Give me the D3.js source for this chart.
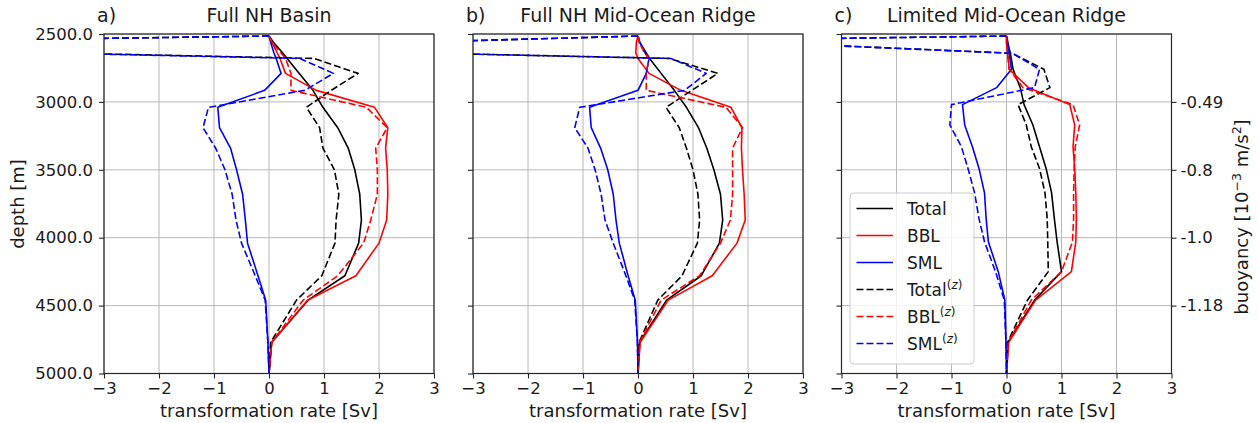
<!DOCTYPE html>
<html>
<head>
<meta charset="utf-8">
<script src="https://cdn.jsdelivr.net/npm/d3@7"></script>
<style>
  body { margin: 0; background: #fff; }
  text { font-family: "DejaVu Sans", sans-serif; fill: #1a1a1a; }
</style>
</head>
<body>
<svg id="chart" width="1258" height="423"></svg>
<script>
// ---- axes ticks and labels ----
const rateTicks = [-3, -2, -1, 0, 1, 2, 3];
const depthTicks = [2500, 3000, 3500, 4000, 4500, 5000];
const buoyancyTickDepths = [3000, 3500, 4000, 4500];
const buoyancyTickLabels = ["-0.49", "-0.8", "-1.0", "-1.18"];
const panelLetters = ["a)", "b)", "c)"];
const panelTitles = ["Full NH Basin", "Full NH Mid-Ocean Ridge", "Limited Mid-Ocean Ridge"];
const seriesNames = ["Total", "BBL", "SML", "Total", "BBL", "SML"];

// ---- depth levels [m] of each experiment ----
const depthA = [2515, 2560, 2640, 2680, 2790, 2915, 3040, 3190, 3340, 3500, 3680, 3870, 4040, 4280, 4460, 4770, 5000];
const depthB = [2515, 2560, 2640, 2680, 2790, 2915, 3040, 3190, 3340, 3500, 3680, 3870, 4040, 4280, 4460, 4770, 5000];
const depthC = [2515, 2550, 2575, 2642, 2760, 2895, 3020, 3170, 3330, 3490, 3670, 3860, 4030, 4250, 4460, 4770, 5000];

// ---- transformation rates [Sv], a) Full NH Basin ----
const totalA  = [0, 0.08, 0.25, 0.33, 0.55, 0.80, 0.98, 1.25, 1.44, 1.56, 1.65, 1.68, 1.63, 1.38, 0.71, 0.05, 0];
const bblA    = [0, 0.05, 0.15, 0.20, 0.30, 0.86, 1.92, 2.16, 2.12, 2.15, 2.16, 2.14, 2.00, 1.58, 0.70, 0.05, 0];
const smlA    = [0, 0.03, 0.09, 0.13, 0.22, -0.08, -0.93, -0.90, -0.70, -0.59, -0.48, -0.43, -0.39, -0.20, -0.06, -0.02, 0];
const totalZA = [0, -7.85, -3.8, 0.82, 1.62, 1.13, 0.68, 0.92, 0.98, 1.19, 1.27, 1.22, 1.20, 0.96, 0.50, 0.03, 0];
const bblZA   = [0, 0.05, 0.22, 0.30, 0.40, 0.40, 1.77, 2.15, 1.94, 1.97, 1.97, 1.85, 1.72, 1.25, 0.62, 0.05, 0];
const smlZA   = [0, -7.9, -4.0, 0.56, 1.17, 0.65, -1.10, -1.20, -0.97, -0.80, -0.67, -0.60, -0.50, -0.25, -0.07, -0.02, 0];

// ---- b) Full NH Mid-Ocean Ridge ----
const totalB  = [0, 0.03, 0.15, 0.21, 0.42, 0.66, 0.88, 1.10, 1.25, 1.38, 1.50, 1.54, 1.48, 1.15, 0.52, 0.03, 0];
const bblB    = [0, -0.03, -0.04, 0.00, 0.20, 0.78, 1.69, 1.89, 1.88, 1.90, 1.93, 1.95, 1.80, 1.35, 0.55, 0.04, 0];
const smlB    = [0, 0.03, 0.13, 0.20, 0.15, 0.00, -0.88, -0.85, -0.68, -0.55, -0.45, -0.40, -0.34, -0.18, -0.05, -0.01, 0];
const totalZB = [0, -3.98, -3.9, 0.57, 1.45, 0.98, 0.51, 0.75, 0.88, 1.00, 1.09, 1.12, 1.08, 0.80, 0.36, 0.02, 0];
const bblZB   = [0, 0.02, 0.12, 0.20, 0.15, 0.15, 1.60, 1.90, 1.72, 1.72, 1.72, 1.68, 1.50, 1.12, 0.42, 0.03, 0];
const smlZB   = [0, -4.0, -4.0, 0.60, 1.24, 0.85, -1.06, -1.15, -0.91, -0.78, -0.67, -0.60, -0.45, -0.22, -0.06, -0.01, 0];

// ---- c) Limited Mid-Ocean Ridge ----
const totalC  = [0, 0.02, 0.03, 0.07, 0.12, 0.25, 0.32, 0.48, 0.60, 0.72, 0.82, 0.87, 0.92, 1.00, 0.51, 0.03, 0];
const bblC    = [0, 0.00, 0.00, 0.02, 0.05, 0.40, 1.15, 1.24, 1.21, 1.24, 1.26, 1.27, 1.26, 1.18, 0.53, 0.04, 0];
const smlC    = [0, 0.01, 0.02, 0.05, 0.09, -0.18, -0.80, -0.76, -0.62, -0.50, -0.40, -0.37, -0.33, -0.15, -0.03, -0.01, 0];
const totalZC = [0, -6.2, -3.75, 0.10, 0.68, 0.79, 0.21, 0.36, 0.45, 0.60, 0.70, 0.74, 0.75, 0.76, 0.38, 0.02, 0];
const bblZC   = [0, 0.00, 0.00, 0.02, 0.05, 0.30, 1.21, 1.33, 1.25, 1.23, 1.22, 1.22, 1.20, 1.00, 0.45, 0.03, 0];
const smlZC   = [0, -6.2, -3.75, 0.11, 0.60, 0.51, -1.00, -1.03, -0.82, -0.70, -0.58, -0.50, -0.40, -0.20, -0.04, -0.01, 0];

const panels = [
  { depth: depthA, series: [totalA, bblA, smlA, totalZA, bblZA, smlZA] },
  { depth: depthB, series: [totalB, bblB, smlB, totalZB, bblZB, smlZB] },
  { depth: depthC, series: [totalC, bblC, smlC, totalZC, bblZC, smlZC] }
];

const colors = ["#000000", "#ff0000", "#0000ff", "#000000", "#ff0000", "#0000ff"];
const dashed = [false, false, false, true, true, true];

// ---- layout ----
const svg = d3.select("#chart");
const plotW = 330, plotH = 339.5, plotTop = 34;
const plotLefts = [104, 473, 841.5];
const tickFont = 16.5, labelFont = 18, titleFont = 19;
const axisColor = "#262626";

const x = d3.scaleLinear().domain([-3, 3]).range([0, plotW]);
const y = d3.scaleLinear().domain([2500, 5000]).range([0, plotH]);

// superscript helper for tspans
function addSup(textSel, str, size) {
  textSel.append("tspan").attr("dy", -7).attr("font-size", size).text(str);
}

panels.forEach((p, pi) => {
  const g = svg.append("g").attr("transform", `translate(${plotLefts[pi]},${plotTop})`);

  g.append("clipPath").attr("id", "clip" + pi)
    .append("rect").attr("width", plotW).attr("height", plotH);

  // grid
  const grid = g.append("g").attr("stroke", "#b8b8b8").attr("stroke-width", 1);
  rateTicks.forEach(t => grid.append("line")
    .attr("x1", x(t)).attr("x2", x(t)).attr("y1", 0).attr("y2", plotH));
  depthTicks.forEach(t => grid.append("line")
    .attr("x1", 0).attr("x2", plotW).attr("y1", y(t)).attr("y2", y(t)));

  // profiles
  const line = d3.line().x(d => x(d[0])).y(d => y(d[1]));
  const lines = g.append("g").attr("clip-path", `url(#clip${pi})`);
  p.series.forEach((vals, si) => {
    const pts = vals.map((v, k) => [v, p.depth[k]]);
    lines.append("path").datum(pts)
      .attr("d", line)
      .attr("fill", "none")
      .attr("stroke", colors[si])
      .attr("stroke-width", 1.6)
      .attr("stroke-linejoin", "round")
      .attr("stroke-dasharray", dashed[si] ? "7,3" : null);
  });

  // frame
  g.append("rect").attr("width", plotW).attr("height", plotH)
    .attr("fill", "none").attr("stroke", axisColor).attr("stroke-width", 1.2);

  // bottom axis
  const xAxis = g.append("g").attr("transform", `translate(0,${plotH})`)
    .call(d3.axisBottom(x).tickValues(rateTicks).tickFormat(d3.format("d"))
      .tickSize(5).tickSizeOuter(0).tickPadding(4));
  // left axis
  const yAxis = g.append("g")
    .call(d3.axisLeft(y).tickValues(depthTicks)
      .tickFormat(pi === 0 ? d3.format(".1f") : () => "")
      .tickSize(5).tickSizeOuter(0).tickPadding(6));
  [xAxis, yAxis].forEach(a => {
    a.select(".domain").remove();
    a.selectAll(".tick line").attr("stroke", axisColor).attr("stroke-width", 1.1);
    a.selectAll(".tick text").attr("font-size", tickFont)
      .attr("font-family", "DejaVu Sans").attr("fill", "#1a1a1a");
  });

  // right buoyancy axis
  if (pi === 2) {
    const rAxis = g.append("g").attr("transform", `translate(${plotW},0)`)
      .call(d3.axisRight(y).tickValues(buoyancyTickDepths)
        .tickFormat((d, i) => buoyancyTickLabels[i])
        .tickSize(5).tickSizeOuter(0).tickPadding(4));
    rAxis.select(".domain").remove();
    rAxis.selectAll(".tick line").attr("stroke", axisColor).attr("stroke-width", 1.1);
    rAxis.selectAll(".tick text").attr("font-size", tickFont)
      .attr("font-family", "DejaVu Sans").attr("fill", "#1a1a1a");

    const rl = svg.append("text")
      .attr("transform", `translate(1248,217) rotate(-90)`)
      .attr("text-anchor", "middle").attr("font-size", labelFont);
    rl.append("tspan").text("buoyancy [10");
    addSup(rl, "\u22123", 12.5);
    rl.append("tspan").attr("dy", 7).text(" m/s");
    addSup(rl, "2", 12.5);
    rl.append("tspan").attr("dy", 7).text("]");
  }

  // x label
  g.append("text").attr("x", plotW / 2).attr("y", plotH + 43)
    .attr("text-anchor", "middle").attr("font-size", labelFont)
    .text("transformation rate [Sv]");

  // titles
  g.append("text").attr("x", -7).attr("y", -12)
    .attr("font-size", titleFont).text(panelLetters[pi]);
  g.append("text").attr("x", plotW / 2).attr("y", -12)
    .attr("text-anchor", "middle").attr("font-size", titleFont).text(panelTitles[pi]);

  // legend
  if (pi === 2) {
    const lg = g.append("g").attr("transform", "translate(8.5,159)");
    lg.append("rect").attr("width", 124).attr("height", 171).attr("rx", 4)
      .attr("fill", "#fff").attr("fill-opacity", 0.8)
      .attr("stroke", "#cccccc").attr("stroke-width", 1);
    seriesNames.forEach((name, si) => {
      const cy = 15.5 + si * 27;
      lg.append("line").attr("x1", 6.5).attr("x2", 43).attr("y1", cy).attr("y2", cy)
        .attr("stroke", colors[si]).attr("stroke-width", 1.6)
        .attr("stroke-dasharray", dashed[si] ? "7,3" : null);
      const t = lg.append("text").attr("x", 57).attr("y", cy + 6).attr("font-size", 17);
      t.append("tspan").text(name);
      if (dashed[si]) {
        t.append("tspan").attr("dy", -7).attr("font-size", 12).text("(");
        t.append("tspan").attr("font-size", 12).attr("font-style", "italic").text("z");
        t.append("tspan").attr("font-size", 12).text(")");
      }
    });
  }
});

// left depth label
svg.append("text").attr("transform", "translate(24,204) rotate(-90)")
  .attr("text-anchor", "middle").attr("font-size", labelFont).text("depth [m]");
</script>
</body>
</html>
